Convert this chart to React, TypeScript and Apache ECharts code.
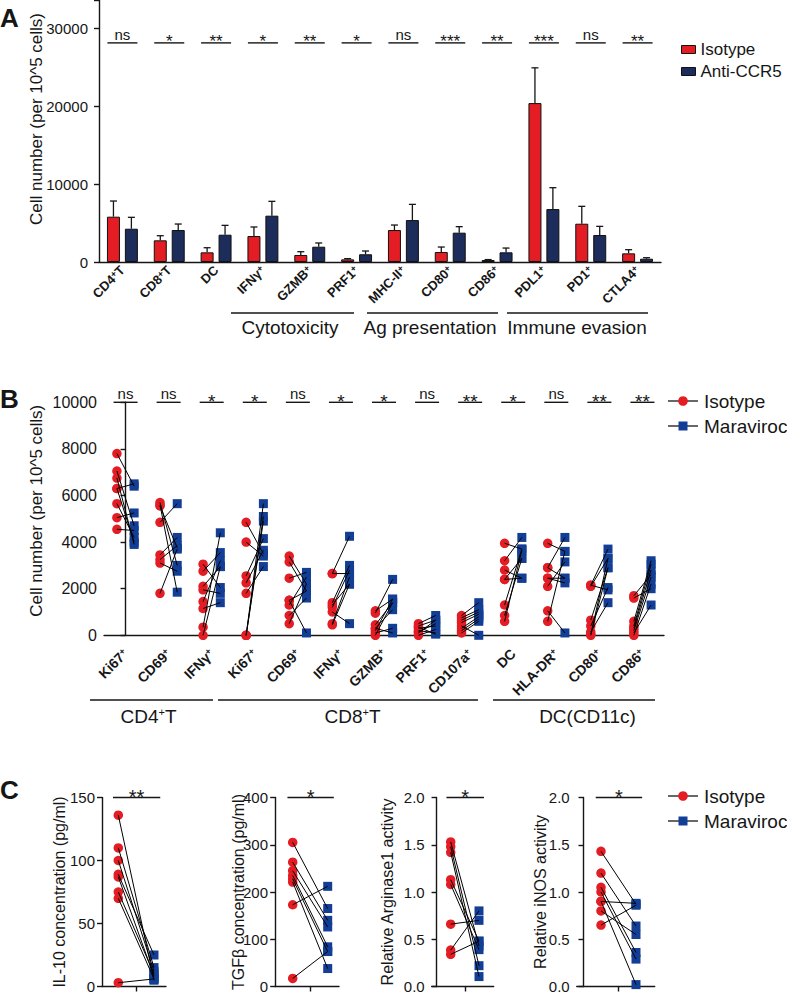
import React, { useEffect, useRef } from 'react';
import * as echarts from 'echarts';

const FONT = "'Liberation Sans', Arial, Helvetica, sans-serif";
const INK = '#161616';
const RED = '#e41c23';
const NAVY = '#1c2c5b';
const BLUE = '#123e95';

// ---------------- Panel A data ----------------
const catsA = ['CD4+T', 'CD8+T', 'DC', 'IFNγ+', 'GZMB+', 'PRF1+', 'MHC-II+', 'CD80+', 'CD86+', 'PDL1+', 'PD1+', 'CTLA4+'];
const isotypeA = [5810, 2780, 1240, 3330, 900, 340, 4100, 1280, 250, 20380, 4910, 1110];
const isotypeErrA = [2010, 590, 590, 1160, 420, 90, 640, 640, 60, 4520, 2230, 470];
const antiA = [4270, 4100, 3500, 5940, 1960, 990, 5380, 3760, 1240, 6790, 3460, 420];
const antiErrA = [1460, 770, 1200, 1840, 480, 420, 2010, 770, 550, 2740, 1110, 130];
const sigA = ['ns', '*', '**', '*', '**', '*', 'ns', '***', '**', '***', 'ns', '**'];
const yMaxA = 33600;
const yStepA = 10000;
const sigLevelA = 28100;
const groupsA = ['Cytotoxicity', 'Ag presentation', 'Immune evasion'];

// ---------------- Panel B data ----------------
const catsB = ['Ki67+', 'CD69+', 'IFNγ+', 'Ki67+', 'CD69+', 'IFNγ+', 'GZMB+', 'PRF1+', 'CD107a+', 'DC', 'HLA-DR+', 'CD80+', 'CD86+'];
const isotypeB = [
  [7800, 7050, 6750, 6300, 5650, 5050, 4550, 6300],
  [5700, 5550, 4850, 3450, 3250, 3100, 1800, 5600],
  [3050, 2750, 2100, 1950, 1450, 1150, 350, 0],
  [4850, 4000, 2550, 2250, 1800, 0, 0, 0],
  [3400, 3150, 2450, 1500, 1300, 850, 500, 1500],
  [2650, 1400, 1200, 1000, 500, 450, 1300, 2650],
  [1050, 950, 450, 300, 100, 0, 300, 200],
  [500, 400, 300, 200, 100, 0, 350, 150],
  [850, 650, 550, 400, 200, 100, 750, 300],
  [3950, 3200, 2800, 2400, 2400, 1300, 850, 600],
  [3950, 2900, 2450, 2100, 2450, 1050, 600, 2900],
  [2150, 2100, 650, 400, 150, 50, 2150, 0],
  [1700, 1600, 600, 400, 200, 100, 0, 300],
];
const maraviocB = [
  [6400, 4700, 3900, 6500, 4200, 5250, 4500, 4000],
  [3000, 3750, 5650, 4200, 3850, 2750, 3700, 1850],
  [2050, 3550, 2950, 1800, 3200, 1400, 4400, 2950],
  [3500, 3400, 4150, 3650, 2950, 5650, 5100, 4900],
  [2200, 1900, 2700, 100, 2500, 1600, 2200, 1900],
  [2650, 3000, 2800, 500, 2500, 2200, 2200, 4250],
  [1550, 2400, 1400, 1100, 300, 1400, 100, 1550],
  [850, 650, 400, 100, 650, 250, 50, 500],
  [1400, 1000, 900, 0, 700, 600, 1100, 800],
  [3700, 4200, 2450, 3300, 2450, 3700, 3300, 3650],
  [3600, 4200, 2450, 3150, 2250, 100, 3600, 2450],
  [3700, 3300, 2900, 2050, 1400, 3300, 1950, 2900],
  [2600, 2000, 3200, 3050, 2500, 1300, 2200, 2800],
];
const sigB = ['ns', 'ns', '*', '*', 'ns', '*', '*', 'ns', '**', '*', 'ns', '**', '**'];
const yMaxB = 10000;
const yStepB = 2000;
const groupsB = ['CD4+T', 'CD8+T', 'DC(CD11c)'];

// ---------------- Panel C data ----------------
const il10Iso = [136, 110, 100, 89, 87, 75, 70, 3];
const il10Mar = [5, 15, 12, 25, 8, 10, 6, 6];
const tgfIso = [305, 263, 245, 235, 228, 221, 173, 17];
const tgfMar = [165, 140, 126, 84, 74, 38, 212, 74];
const argIso = [1.53, 1.48, 1.42, 1.13, 1.08, 0.66, 0.385, 0.34];
const argMar = [0.43, 0.22, 0.105, 0.48, 0.39, 0.7, 0.8, 0.48];
const inosIso = [1.43, 1.2, 1.05, 1.0, 0.9, 0.9, 0.8, 0.65];
const inosMar = [0.87, 0.64, 0.36, 0.29, 0.88, 0.02, 0.55, 0.86];
const titlesC = ['IL-10 concentration (pg/ml)', 'TGFβ concentration (pg/ml)', 'Relative Arginase1 activity', 'Relative iNOS activity'];
const sigC = ['**', '*', '*', '*'];
const yMaxC = [150, 400, 2, 2];
const yStepC = [50, 100, 0.5, 0.5];
const decimalsC = [0, 0, 1, 1];
const legendNames = ['Isotype', 'Maraviroc'];
const legendNamesA = ['Isotype', 'Anti-CCR5'];

// ---------------- layout ----------------
const BAR_W = 13;
const BAR_GAP = 0.38;
const BAR_OFF = (BAR_W * (1 + BAR_GAP)) / 2;
const DOT_DX = 0.2;
const layoutC = [
  { left: 102, width: 64, red: 16.3, blue: 52, gap: 35 },
  { left: 275, width: 64, red: 17.7, blue: 52.7, gap: 29 },
  { left: 431.7, width: 62, red: 19, blue: 47.3, gap: 36 },
  { left: 576.7, width: 78, red: 24.3, blue: 59.3, gap: 28 },
];

const supRich = (s: string) =>
  s
    .split('+')
    .map((p, i, arr) => (p ? `{b|${p}}` : '') + (i < arr.length - 1 ? '{s|+}' : ''))
    .join('');

const axisCommon = {
  axisLine: { lineStyle: { color: INK, width: 1.4 } },
  axisTick: { length: 5, lineStyle: { color: INK, width: 1.4 } },
  splitLine: { show: false },
};

function sigRenderer(labels: string[], level: number, half: number, nsSize: number, starSize: number) {
  return (params: any, api: any) => {
    const i = api.value(0);
    const p = api.coord([i, level]);
    const label = labels[params.dataIndex];
    const isNs = label === 'ns';
    return {
      type: 'group',
      children: [
        { type: 'line', shape: { x1: p[0] - half, y1: p[1], x2: p[0] + half, y2: p[1] }, style: { stroke: INK, lineWidth: 1.4 } },
        {
          type: 'text',
          x: p[0],
          y: p[1] - 1,
          style: {
            text: label,
            fill: INK,
            fontSize: isNs ? nsSize : starSize,
            fontFamily: FONT,
            align: 'center',
            verticalAlign: isNs ? 'bottom' : 'middle',
            textAlign: 'center',
            textVerticalAlign: isNs ? 'bottom' : 'middle',
          },
        },
      ],
    };
  };
}

function sigRendererC(label: string, level: number, x0: number, x1: number) {
  return (params: any, api: any) => {
    const a = api.coord([x0, level]);
    const b = api.coord([x1, level]);
    return {
      type: 'group',
      children: [
        { type: 'line', shape: { x1: a[0], y1: a[1], x2: b[0], y2: b[1] }, style: { stroke: INK, lineWidth: 1.4 } },
        {
          type: 'text',
          x: (a[0] + b[0]) / 2,
          y: a[1] - 1,
          style: { text: label, fill: INK, fontSize: 20, fontFamily: FONT, align: 'center', verticalAlign: 'middle', textAlign: 'center', textVerticalAlign: 'middle' },
        },
      ],
    };
  };
}

function errRenderer(sign: number) {
  return (params: any, api: any) => {
    const i = api.value(0);
    const v = api.value(1);
    const e = api.value(2);
    const base = api.coord([i, v]);
    const top = api.coord([i, v + e]);
    const x = base[0] + sign * BAR_OFF;
    return {
      type: 'group',
      children: [
        { type: 'line', shape: { x1: x, y1: base[1], x2: x, y2: top[1] }, style: { stroke: INK, lineWidth: 1.3 } },
        { type: 'line', shape: { x1: x - 3.5, y1: top[1], x2: x + 3.5, y2: top[1] }, style: { stroke: INK, lineWidth: 1.3 } },
      ],
    };
  };
}

function pairRenderer(dxL: number, dxR: number) {
  return (params: any, api: any) => {
    const c = api.value(0);
    const a = api.coord([c - dxL, api.value(1)]);
    const b = api.coord([c + dxR, api.value(2)]);
    return { type: 'line', shape: { x1: a[0], y1: a[1], x2: b[0], y2: b[1] }, style: { stroke: '#000', lineWidth: 1 } };
  };
}

function txt(text: string, x: number, y: number, fontSize: number, extra: any = {}) {
  return {
    type: 'text',
    x,
    y,
    silent: true,
    style: {
      text,
      fill: INK,
      fontSize,
      fontFamily: FONT,
      align: extra.align || 'center',
      verticalAlign: 'middle',
      textAlign: extra.align || 'center',
      textVerticalAlign: 'middle',
      fontWeight: extra.fontWeight || 'normal',
      rich: extra.rich,
    },
  };
}

function hline(x1: number, x2: number, y: number) {
  return { type: 'line', silent: true, shape: { x1, y1: y, x2, y2: y }, style: { stroke: INK, lineWidth: 1.3 } };
}

function legendGraphic(y1: number, y2: number) {
  return [
    hline(668, 698, y1),
    { type: 'circle', silent: true, shape: { cx: 683, cy: y1, r: 4.8 }, style: { fill: RED } },
    txt(legendNames[0], 704, y1, 19, { align: 'left' }),
    hline(668, 698, y2),
    { type: 'rect', silent: true, shape: { x: 678.5, y: y2 - 4.5, width: 9, height: 9 }, style: { fill: BLUE } },
    txt(legendNames[1], 704, y2, 19, { align: 'left' }),
  ];
}

function buildOption() {
  const grids: any[] = [
    { left: 99, top: 0, width: 562, height: 262 },
    { left: 104, top: 402.3, width: 560, height: 233 },
  ];
  const xAxes: any[] = [
    {
      gridIndex: 0,
      type: 'category',
      data: catsA,
      ...axisCommon,
      axisTick: { ...axisCommon.axisTick, alignWithLabel: true },
      axisLabel: {
        interval: 0,
        rotate: 45,
        margin: 6,
        color: INK,
        formatter: (v: string) => supRich(v),
        rich: {
          b: { fontSize: 13, fontWeight: 'bold', fontFamily: FONT, color: INK },
          s: { fontSize: 9, fontWeight: 'bold', fontFamily: FONT, color: INK, verticalAlign: 'top' },
        },
      },
    },
    {
      gridIndex: 1,
      type: 'category',
      data: catsB,
      ...axisCommon,
      axisTick: { ...axisCommon.axisTick, alignWithLabel: true },
      axisLabel: {
        interval: 0,
        rotate: 45,
        margin: 16,
        color: INK,
        formatter: (v: string) => supRich(v),
        rich: {
          b: { fontSize: 14, fontWeight: 'bold', fontFamily: FONT, color: INK },
          s: { fontSize: 9, fontWeight: 'bold', fontFamily: FONT, color: INK, verticalAlign: 'top' },
        },
      },
    },
    { gridIndex: 1, type: 'value', show: false, min: -0.5, max: catsB.length - 0.5 },
  ];
  const yAxes: any[] = [
    {
      gridIndex: 0,
      type: 'value',
      min: 0,
      max: yMaxA,
      interval: yStepA,
      ...axisCommon,
      axisLine: { show: true, lineStyle: { color: INK, width: 1.4 } },
      axisTick: { show: true, length: 5, lineStyle: { color: INK, width: 1.4 } },
      axisLabel: { color: INK, fontSize: 15, fontFamily: FONT, margin: 11, formatter: (v: number) => (v % yStepA === 0 ? String(v) : '') },
      name: 'Cell number (per 10^5 cells)',
      nameLocation: 'middle',
      nameGap: 54,
      nameMoveOverlap: false,
      nameTextStyle: { color: INK, fontSize: 17, fontFamily: FONT, padding: [0, 0, 0, 24] },
    },
    {
      gridIndex: 1,
      type: 'value',
      min: 0,
      max: yMaxB,
      interval: yStepB,
      ...axisCommon,
      axisLine: { show: true, lineStyle: { color: INK, width: 1.4 } },
      axisTick: { show: true, length: 5, lineStyle: { color: INK, width: 1.4 } },
      axisLabel: { color: INK, fontSize: 16, fontFamily: FONT, margin: 7, formatter: (v: number) => String(v) },
      name: 'Cell number (per 10^5 cells)',
      nameLocation: 'middle',
      nameGap: 59,
      nameMoveOverlap: false,
      nameTextStyle: { color: INK, fontSize: 17, fontFamily: FONT, padding: [0, 0, 0, 16] },
    },
  ];

  const series: any[] = [
    {
      name: legendNamesA[0],
      type: 'bar',
      xAxisIndex: 0,
      yAxisIndex: 0,
      data: isotypeA,
      barWidth: BAR_W,
      barGap: `${BAR_GAP * 100}%`,
      itemStyle: { color: RED, borderColor: '#111', borderWidth: 1 },
      z: 2,
    },
    {
      name: legendNamesA[1],
      type: 'bar',
      xAxisIndex: 0,
      yAxisIndex: 0,
      data: antiA,
      barWidth: BAR_W,
      barGap: `${BAR_GAP * 100}%`,
      itemStyle: { color: NAVY, borderColor: '#111', borderWidth: 1 },
      z: 2,
    },
    {
      type: 'custom',
      xAxisIndex: 0,
      yAxisIndex: 0,
      silent: true,
      clip: false,
      z: 3,
      data: isotypeA.map((v, i) => [i, v, isotypeErrA[i]]),
      encode: { x: 0, y: 1 },
      renderItem: errRenderer(-1),
    },
    {
      type: 'custom',
      xAxisIndex: 0,
      yAxisIndex: 0,
      silent: true,
      clip: false,
      z: 3,
      data: antiA.map((v, i) => [i, v, antiErrA[i]]),
      encode: { x: 0, y: 1 },
      renderItem: errRenderer(1),
    },
    {
      type: 'custom',
      xAxisIndex: 0,
      yAxisIndex: 0,
      silent: true,
      clip: false,
      data: sigA.map((_, i) => [i, sigLevelA]),
      encode: { x: 0, y: 1 },
      renderItem: sigRenderer(sigA, sigLevelA, 15, 15, 17),
    },
    // Panel B
    {
      name: 'B-' + legendNames[0],
      type: 'scatter',
      xAxisIndex: 2,
      yAxisIndex: 1,
      symbol: 'circle',
      symbolSize: 9.5,
      itemStyle: { color: RED, opacity: 1 },
      data: isotypeB.flatMap((arr, c) => arr.map((v) => [c - DOT_DX, v])),
      z: 2,
      silent: true,
    },
    {
      name: 'B-' + legendNames[1],
      type: 'scatter',
      xAxisIndex: 2,
      yAxisIndex: 1,
      symbol: 'rect',
      symbolSize: 9,
      itemStyle: { color: BLUE, opacity: 1 },
      data: maraviocB.flatMap((arr, c) => arr.map((v) => [c + DOT_DX, v])),
      z: 2,
      silent: true,
    },
    {
      type: 'custom',
      xAxisIndex: 2,
      yAxisIndex: 1,
      silent: true,
      clip: false,
      z: 4,
      data: isotypeB.flatMap((arr, c) => arr.map((v, k) => [c, v, maraviocB[c][k]])),
      encode: { x: 0, y: [1, 2] },
      renderItem: pairRenderer(DOT_DX, DOT_DX),
    },
    {
      type: 'custom',
      xAxisIndex: 1,
      yAxisIndex: 1,
      silent: true,
      clip: false,
      data: sigB.map((_, i) => [i, yMaxB]),
      encode: { x: 0, y: 1 },
      renderItem: sigRenderer(sigB, yMaxB, 12, 15, 19),
    },
  ];

  const isoC = [il10Iso, tgfIso, argIso, inosIso];
  const marC = [il10Mar, tgfMar, argMar, inosMar];
  layoutC.forEach((L, k) => {
    const unit = (L.blue - L.red) / 2;
    const xmin = 1 - L.red / unit;
    const xmax = xmin + L.width / unit;
    const g = grids.length;
    grids.push({ left: L.left, top: 797.5, width: L.width, height: 190.5 });
    const xi = xAxes.length;
    xAxes.push({
      gridIndex: g,
      type: 'value',
      min: xmin,
      max: xmax,
      ...axisCommon,
      axisTick: { show: true, length: 5, lineStyle: { color: INK, width: 1.4 }, customValues: [2] },
      axisLabel: { show: false },
    });
    const yi = yAxes.length;
    yAxes.push({
      gridIndex: g,
      type: 'value',
      min: 0,
      max: yMaxC[k],
      interval: yStepC[k],
      ...axisCommon,
      axisLine: { show: true, lineStyle: { color: INK, width: 1.4 } },
      axisTick: { show: true, length: 5, lineStyle: { color: INK, width: 1.4 } },
      axisLabel: { color: INK, fontSize: 15, fontFamily: FONT, margin: 7, formatter: (v: number) => v.toFixed(decimalsC[k]) },
      name: titlesC[k],
      nameLocation: 'middle',
      nameGap: L.gap,
      nameMoveOverlap: false,
      nameTextStyle: { color: INK, fontSize: 16, fontFamily: FONT },
    });
    series.push(
      {
        name: 'C' + k + '-' + legendNames[0],
        type: 'scatter',
        xAxisIndex: xi,
        yAxisIndex: yi,
        symbol: 'circle',
        symbolSize: 9.5,
        itemStyle: { color: RED, opacity: 1 },
        data: isoC[k].map((v) => [1, v]),
        z: 2,
        silent: true,
      },
      {
        name: 'C' + k + '-' + legendNames[1],
        type: 'scatter',
        xAxisIndex: xi,
        yAxisIndex: yi,
        symbol: 'rect',
        symbolSize: 9,
        itemStyle: { color: BLUE, opacity: 1 },
        data: marC[k].map((v) => [3, v]),
        z: 2,
        silent: true,
      },
      {
        type: 'custom',
        xAxisIndex: xi,
        yAxisIndex: yi,
        silent: true,
        clip: false,
        z: 4,
        data: isoC[k].map((v, j) => [2, v, marC[k][j]]),
        encode: { x: 0, y: [1, 2] },
        renderItem: pairRenderer(1, 1),
      },
      {
        type: 'custom',
        xAxisIndex: xi,
        yAxisIndex: yi,
        silent: true,
        clip: false,
        data: [[2, yMaxC[k]]],
        encode: { x: 0, y: 1 },
        renderItem: sigRendererC(sigC[k], yMaxC[k], 0.7, 3.35),
      }
    );
  });

  const richGroup = {
    b: { fontSize: 19, fontFamily: FONT, color: INK },
    s: { fontSize: 11, fontFamily: FONT, color: INK, verticalAlign: 'top' },
  };

  const graphic: any[] = [
    txt('A', 0, 18, 26, { align: 'left', fontWeight: 'bold' }),
    txt('B', 0, 399, 26, { align: 'left', fontWeight: 'bold' }),
    txt('C', 0, 790, 26, { align: 'left', fontWeight: 'bold' }),
    hline(231, 354, 313),
    hline(367, 498, 313),
    hline(507, 648, 313),
    txt(groupsA[0], 290, 327, 19),
    txt(groupsA[1], 430, 327, 19),
    txt(groupsA[2], 577, 327, 19),
    hline(90, 213, 700),
    hline(218, 478, 700),
    hline(493, 655, 700),
    txt(supRich(groupsB[0]), 148.5, 716, 19, { rich: richGroup }),
    txt(supRich(groupsB[1]), 352.5, 716, 19, { rich: richGroup }),
    txt(groupsB[2], 587.5, 716, 19),
    ...legendGraphic(401, 426),
    ...legendGraphic(796, 821),
  ];

  return {
    animation: false,
    backgroundColor: '#fff',
    textStyle: { fontFamily: FONT },
    grid: grids,
    xAxis: xAxes,
    yAxis: yAxes,
    legend: {
      data: legendNamesA,
      left: 676,
      top: 36,
      orient: 'vertical',
      itemWidth: 14,
      itemHeight: 8,
      itemGap: 5,
      selectedMode: false,
      icon: 'rect',
      textStyle: { fontSize: 17, color: INK, fontFamily: FONT },
      itemStyle: { borderColor: '#111', borderWidth: 1 },
    },
    graphic,
    series,
  };
}

export default function App() {
  const ref = useRef<HTMLDivElement>(null);
  useEffect(() => {
    document.body.style.margin = '0';
    const chart = echarts.init(ref.current as HTMLDivElement, null, { renderer: 'svg', width: 787, height: 994 });
    chart.setOption(buildOption() as any);
    return () => chart.dispose();
  }, []);
  return <div ref={ref} style={{ width: 787, height: 994, position: 'absolute', left: 0, top: 0, background: '#fff' }} />;
}
